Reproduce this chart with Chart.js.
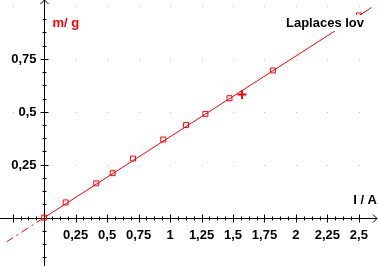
<!DOCTYPE html>
<html>
<head>
<meta charset="utf-8">
<script src="https://cdn.jsdelivr.net/npm/chart.js@4.4.1/dist/chart.umd.min.js"></script>
<style>
  html, body { margin: 0; padding: 0; background: #fff; }
  canvas { display: block; }
</style>
</head>
<body>
<canvas id="laplace" width="378" height="266"></canvas>
<script>
// maalinger: strom I (A) og masse m (g)
var currentA = [0, 0.171, 0.414, 0.544, 0.706, 0.946, 1.127, 1.281, 1.472, 1.817, 2.5];
var massG    = [0, 0.072, 0.162, 0.210, 0.279, 0.369, 0.437, 0.490, 0.564, 0.695, 0.955];

// markor
var cursorA = [1.572];
var cursorG = [0.582];

// rett linje gjennom origo
var fitA = [0, 2.62];
var fitG = [0, 1.0];
var fitBackA = [-0.3, 0];
var fitBackG = [-0.115, 0];

var xTicks  = [0.25, 0.5, 0.75, 1, 1.25, 1.5, 1.75, 2, 2.25, 2.5];
var xLabels = ['0,25', '0,5', '0,75', '1', '1,25', '1,5', '1,75', '2', '2,25', '2,5'];
var yTicks  = [0.25, 0.5, 0.75];
var yLabels = ['0,25', '0,5', '0,75'];
var gridX = [-0.25, 0.25, 0.5, 0.75, 1, 1.25, 1.5, 1.75, 2, 2.25, 2.5];
var gridY = [0.25, 0.5, 0.75, 1];
var minorStep = 0.0625;

var font = 'bold 13px "Liberation Sans", Arial, sans-serif';

function pts(xs, ys) {
  return xs.map(function (x, i) { return { x: x, y: ys[i] }; });
}

var axesPlugin = {
  id: 'axes',
  beforeDatasetsDraw: function (chart) {
    var ctx = chart.ctx, xs = chart.scales.x, ys = chart.scales.y;
    var W = chart.width, H = chart.height;
    var x0 = Math.round(xs.getPixelForValue(0)) + 0.5;
    var y0 = Math.round(ys.getPixelForValue(0)) + 0.5;
    ctx.save();

    // grid dots
    ctx.fillStyle = '#c0c0c0';
    gridX.forEach(function (gx) {
      gridY.forEach(function (gy) {
        ctx.fillRect(Math.round(xs.getPixelForValue(gx)), Math.round(ys.getPixelForValue(gy)), 1, 1);
      });
    });

    ctx.strokeStyle = '#000';
    ctx.lineWidth = 1;
    ctx.beginPath();
    ctx.moveTo(0, y0); ctx.lineTo(W - 1, y0);
    ctx.moveTo(x0, 0); ctx.lineTo(x0, H);
    // arrows
    ctx.moveTo(x0 - 4, 4); ctx.lineTo(x0, 0); ctx.lineTo(x0 + 4, 4);
    ctx.moveTo(W - 5, y0 - 4); ctx.lineTo(W - 1, y0); ctx.lineTo(W - 5, y0 + 4);

    // x ticks
    for (var v = -0.25; v <= 2.5 + 1e-6; v += minorStep) {
      if (Math.abs(v) < 1e-6) continue;
      var px = Math.round(xs.getPixelForValue(v)) + 0.5;
      var major = Math.abs(v / 0.25 - Math.round(v / 0.25)) < 1e-6;
      var len = major ? 4 : 2;
      ctx.moveTo(px, y0 - len); ctx.lineTo(px, y0 + len);
    }
    // y ticks
    for (var w = -0.1875; w <= 0.95; w += minorStep) {
      if (Math.abs(w) < 1e-6) continue;
      var py = Math.round(ys.getPixelForValue(w)) + 0.5;
      var majorY = Math.abs(w / 0.25 - Math.round(w / 0.25)) < 1e-6;
      var lenY = majorY ? 4 : 2;
      ctx.moveTo(x0 - lenY, py); ctx.lineTo(x0 + lenY, py);
    }
    ctx.stroke();

    // tick labels
    ctx.fillStyle = '#000';
    ctx.font = font;
    ctx.textAlign = 'center';
    ctx.textBaseline = 'middle';
    xTicks.forEach(function (t, i) {
      ctx.fillText(xLabels[i], xs.getPixelForValue(t), y0 + 17);
    });
    ctx.textAlign = 'right';
    yTicks.forEach(function (t, i) {
      ctx.fillText(yLabels[i], x0 - 8, ys.getPixelForValue(t) + 0.5);
    });

    // axis titles
    ctx.textBaseline = 'alphabetic';
    ctx.textAlign = 'right';
    ctx.fillText('I / A', W - 1, y0 - 15);
    ctx.fillStyle = '#ff0000';
    ctx.textAlign = 'left';
    ctx.fillText('m/ g', x0 + 8, 27);
    ctx.restore();
  },
  afterDatasetsDraw: function (chart) {
    var ctx = chart.ctx;
    ctx.save();
    ctx.font = font;
    var txt = 'Laplaces lov';
    var tw = ctx.measureText(txt).width;
    var right = 364;
    ctx.fillStyle = '#fff';
    ctx.fillRect(right - tw - 2, 15, tw + 4, 16);
    ctx.fillStyle = '#000';
    ctx.textAlign = 'right';
    ctx.textBaseline = 'alphabetic';
    ctx.fillText(txt, right, 27);
    ctx.restore();
  }
};

new Chart(document.getElementById('laplace'), {
  type: 'scatter',
  data: {
    datasets: [{
      label: 'Maalinger',
      data: pts(currentA, massG),
      pointStyle: 'rect',
      pointRadius: 3.5,
      borderColor: '#ff0000',
      backgroundColor: 'rgba(0,0,0,0)',
      borderWidth: 1,
      clip: false,
      order: 0
    }, {
      label: 'Markor',
      data: pts(cursorA, cursorG),
      pointStyle: 'cross',
      pointRadius: 4.5,
      borderColor: '#ff0000',
      borderWidth: 2,
      order: 0
    }, {
      label: 'Linje',
      data: pts(fitA, fitG),
      showLine: true,
      pointRadius: 0,
      borderColor: '#ff0000',
      borderWidth: 1,
      order: 1
    }, {
      label: 'Linje bak',
      data: pts(fitBackA, fitBackG),
      showLine: true,
      pointRadius: 0,
      borderColor: '#ff0000',
      borderWidth: 1,
      borderDash: [8, 4, 2, 4],
      order: 1
    }]
  },
  options: {
    responsive: false,
    animation: false,
    devicePixelRatio: 1,
    layout: { padding: 0 },
    plugins: { legend: { display: false }, tooltip: { enabled: false } },
    scales: {
      x: { type: 'linear', min: -0.299, max: 2.6, display: false },
      y: { type: 'linear', min: -0.1976, max: 0.997, display: false }
    }
  },
  plugins: [axesPlugin]
});
</script>
</body>
</html>
